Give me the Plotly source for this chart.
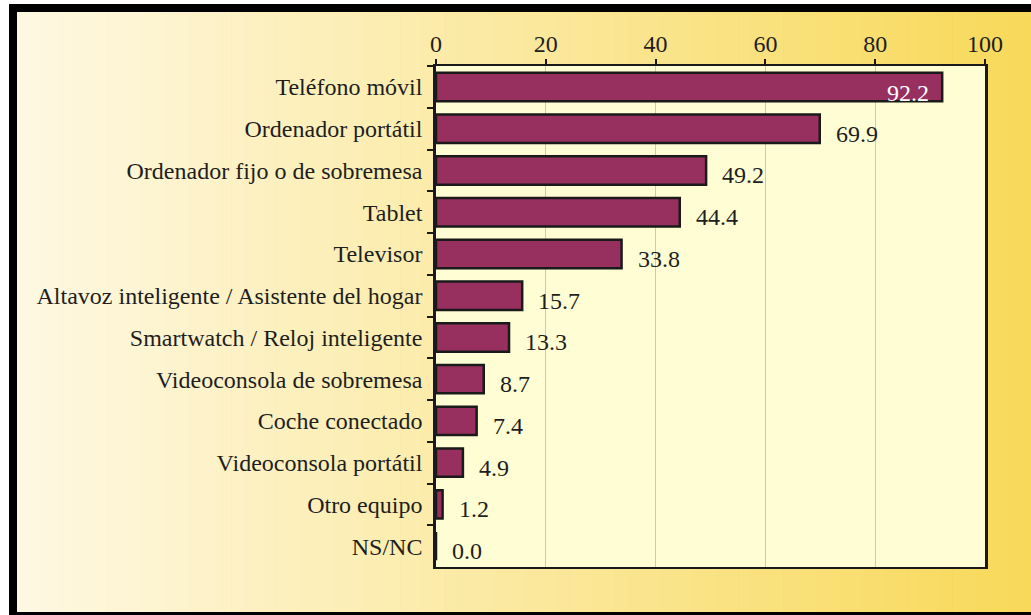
import plotly.graph_objects as go

categories = [
    "Teléfono móvil",
    "Ordenador portátil",
    "Ordenador fijo o de sobremesa",
    "Tablet",
    "Televisor",
    "Altavoz inteligente / Asistente del hogar",
    "Smartwatch / Reloj inteligente",
    "Videoconsola de sobremesa",
    "Coche conectado",
    "Videoconsola portátil",
    "Otro equipo",
    "NS/NC",
]
values = [92.2, 69.9, 49.2, 44.4, 33.8, 15.7, 13.3, 8.7, 7.4, 4.9, 1.2, 0.0]
x_ticks = [0, 20, 40, 60, 80, 100]

W, H = 1031, 615
PX0, PX1, PY0, PY1 = 436, 985, 66, 567  # plot area in pixels
FONT = "Liberation Serif, Times New Roman, serif"
TXT = "#1e1e1e"


def px_x(px):
    return (px - PX0) / (PX1 - PX0)


def px_y(py):
    return (PY1 - py) / (PY1 - PY0)


def hexmix(c1, c2, t):
    a = [int(c1[i:i + 2], 16) for i in (1, 3, 5)]
    b = [int(c2[i:i + 2], 16) for i in (1, 3, 5)]
    return "#%02x%02x%02x" % tuple(round(a[k] + (b[k] - a[k]) * t) for k in range(3))


shapes = []
# outer black frame
shapes.append(dict(type="rect", xref="paper", yref="paper", layer="below",
                   x0=px_x(9), x1=px_x(W), y0=px_y(4), y1=px_y(H + 5),
                   fillcolor="black", line=dict(width=0)))
# gradient background
N = 90
gx0, gx1 = 17, W
for i in range(N):
    a = gx0 + (gx1 - gx0) * i / N
    b = min(gx1, gx0 + (gx1 - gx0) * (i + 1) / N + 0.8)
    shapes.append(dict(type="rect", xref="paper", yref="paper", layer="below",
                       x0=px_x(a), x1=px_x(b), y0=px_y(12), y1=px_y(612),
                       fillcolor=hexmix("#fef8e2", "#f8d95a", i / (N - 1)),
                       line=dict(width=0)))
# plot-area fill
shapes.append(dict(type="rect", xref="paper", yref="paper", layer="below",
                   x0=0, x1=1, y0=0, y1=1, fillcolor="#fffdd3", line=dict(width=0)))

fig = go.Figure()
fig.add_trace(go.Bar(
    x=values, y=categories, orientation="h",
    marker=dict(color="#97305f", line=dict(color="#1a1a1a", width=2.5)),
    width=0.68, hoverinfo="x+y",
))

annotations = []
for c, v in zip(categories, values):
    inside = v > 85
    annotations.append(dict(
        x=v, y=c, xref="x", yref="y", text=f"{v:.1f}", showarrow=False,
        xanchor="right" if inside else "left",
        xshift=-11 if inside else 14, yshift=-6 if inside else -5,
        font=dict(family=FONT, size=24, color="white" if inside else TXT),
    ))

fig.update_layout(
    width=W, height=H,
    margin=dict(l=PX0, r=W - PX1, t=PY0, b=H - PY1, pad=0),
    paper_bgcolor="white", plot_bgcolor="rgba(0,0,0,0)",
    shapes=shapes, annotations=annotations,
    showlegend=False, bargap=0.3,
    font=dict(family=FONT, size=24, color=TXT),
)
fig.update_xaxes(
    side="top", range=[0, 100], tickvals=x_ticks, ticktext=[str(t) for t in x_ticks],
    showgrid=True, gridcolor="#c8c8c8", gridwidth=1, zeroline=False,
    showline=True, linecolor="#1a1a1a", linewidth=2, mirror=True,
    ticks="outside", ticklen=5, tickcolor="#1a1a1a", tickwidth=1.5,
    ticklabelstandoff=-3,
    tickfont=dict(family=FONT, size=24, color=TXT), fixedrange=True,
)
fig.update_yaxes(
    autorange="reversed", categoryorder="array", categoryarray=categories,
    showgrid=False, zeroline=False,
    showline=True, linecolor="#1a1a1a", linewidth=2.5, mirror=True,
    ticks="outside", ticklen=6, tickcolor="#1a1a1a", tickwidth=1.5,
    tickson="boundaries", ticklabelstandoff=6,
    tickfont=dict(family=FONT, size=24, color=TXT), fixedrange=True,
)

fig.write_html(
    "out.html",
    config={"displayModeBar": False},
    post_script="document.body.style.margin='0';document.body.style.overflow='hidden';",
)
